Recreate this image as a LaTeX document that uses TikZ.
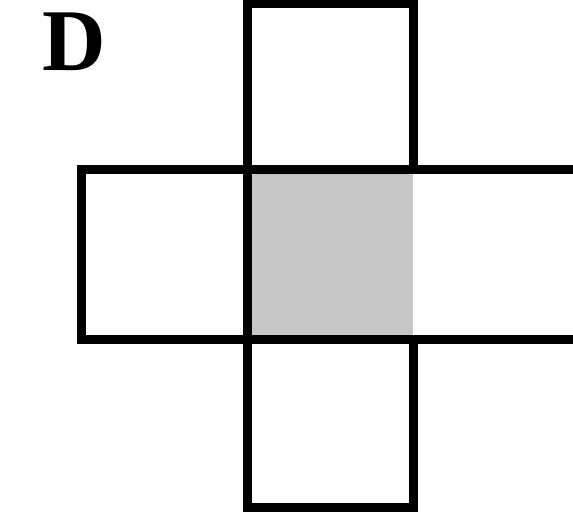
\documentclass[tikz,border=0pt]{standalone}
\usepackage{fontspec}
\setmainfont{Liberation Serif}
\begin{document}
\begin{tikzpicture}[x=1pt,y=1pt,
  box/.style={draw=black,line width=9pt,line join=miter},
  shade/.style={fill=black!22}]
\useasboundingbox (0,0) rectangle (573,513);
\clip (0,0) rectangle (573,513);
\fill[shade] (247,343) rectangle (413,173);
\draw[box] (247,343) rectangle (413,509);
\draw[box] (81,343) rectangle (247,173);
\draw[box] (247,173) rectangle (413,5);
\draw[box] (413,343) -- (590,343);
\draw[box] (413,173) -- (590,173);
\node[font=\bfseries\fontsize{88}{88}\selectfont,inner sep=0pt,anchor=base] (lab) at (74,442) {D};
\end{tikzpicture}
\end{document}
